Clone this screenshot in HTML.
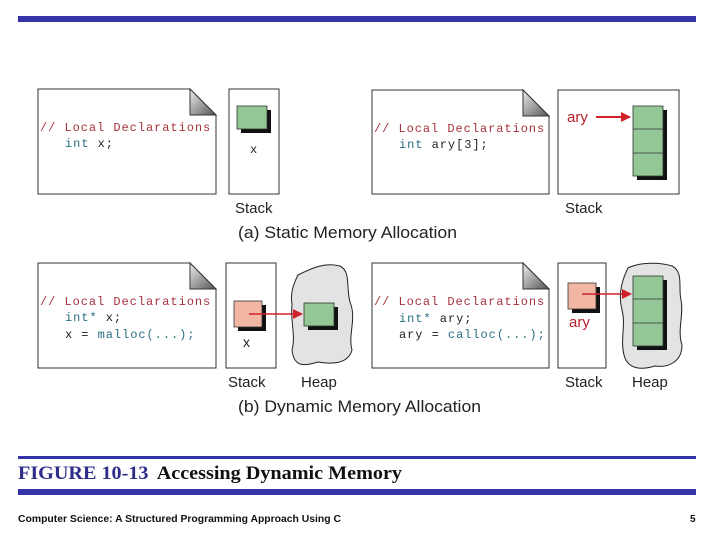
<!DOCTYPE html>
<html><head><meta charset="utf-8"><style>
html,body{margin:0;padding:0;background:#fff;width:720px;height:540px;overflow:hidden}
svg{display:block}
.mono{font-family:"Liberation Mono",monospace;font-size:12px;letter-spacing:0.95px}
.sans{font-family:"Liberation Sans",sans-serif}
</style></head><body>
<svg width="720" height="540" viewBox="0 0 720 540" xmlns="http://www.w3.org/2000/svg">
<defs>
<linearGradient id="fold" x1="0" y1="0" x2="1" y2="1">
<stop offset="0" stop-color="#eee"/><stop offset="1" stop-color="#555"/></linearGradient>
<marker id="ah" markerWidth="10" markerHeight="10" refX="9" refY="5" orient="auto" markerUnits="userSpaceOnUse">
<path d="M0,0 L10,5 L0,10 z" fill="#d0202a"/></marker>
</defs>
<rect x="18" y="16" width="678" height="6" fill="#3434a8"/>

<path d="M38,89 H190 L216,115 V194 H38 Z" fill="#fff" stroke="#333" stroke-width="1"/>
<path d="M190,89 L216,115 H190 Z" fill="url(#fold)" stroke="#333" stroke-width="1"/>
<text x="40" y="131" class="mono" fill="#a8323c">// Local Declarations</text>
<text x="65" y="147" class="mono" fill="#2a6f86">int <tspan fill="#222">x;</tspan></text>
<rect x="229" y="89" width="50" height="105" fill="#fff" stroke="#333"/>
<rect x="241" y="110" width="30" height="23" fill="#111"/>
<rect x="237" y="106" width="30" height="23" fill="#93c795" stroke="#333" stroke-width="0.8"/>
<text x="250" y="153" class="mono" fill="#222">x</text>
<text x="235" y="213" class="sans" font-size="15" fill="#222">Stack</text>

<path d="M372,90 H523 L549,116 V194 H372 Z" fill="#fff" stroke="#333"/>
<path d="M523,90 L549,116 H523 Z" fill="url(#fold)" stroke="#333"/>
<text x="374" y="132" class="mono" fill="#a8323c">// Local Declarations</text>
<text x="399" y="148" class="mono" fill="#2a6f86">int <tspan fill="#222">ary[3];</tspan></text>
<rect x="558" y="90" width="121" height="104" fill="#fff" stroke="#333"/>
<text x="567" y="122" class="sans" font-size="15" fill="#b8202c">ary</text>
<line x1="596" y1="117" x2="630" y2="117" stroke="#d0202a" stroke-width="2" marker-end="url(#ah)"/>
<rect x="637" y="110" width="30" height="70" fill="#111"/>
<rect x="633" y="106" width="30" height="70" fill="#93c795" stroke="#333" stroke-width="0.8"/>
<line x1="633" y1="129" x2="663" y2="129" stroke="#333" stroke-width="0.8"/>
<line x1="633" y1="153" x2="663" y2="153" stroke="#333" stroke-width="0.8"/>
<text x="565" y="213" class="sans" font-size="15" fill="#222">Stack</text>
<text x="238" y="238" class="sans" font-size="16.5" fill="#222" textLength="219" lengthAdjust="spacingAndGlyphs">(a) Static Memory Allocation</text>

<path d="M38,263 H190 L216,289 V368 H38 Z" fill="#fff" stroke="#333"/>
<path d="M190,263 L216,289 H190 Z" fill="url(#fold)" stroke="#333"/>
<text x="40" y="305" class="mono" fill="#a8323c">// Local Declarations</text>
<text x="65" y="321" class="mono" fill="#2a6f86">int* <tspan fill="#222">x;</tspan></text>
<text x="65" y="338" class="mono" fill="#222">x = <tspan fill="#2a6f86">malloc(...);</tspan></text>
<rect x="226" y="263" width="50" height="105" fill="#fff" stroke="#333"/>
<rect x="238" y="305" width="28" height="26" fill="#111"/>
<rect x="234" y="301" width="28" height="26" fill="#f2b7a3" stroke="#333" stroke-width="0.8"/>
<text x="243" y="347" class="sans" font-size="14" fill="#222">x</text>
<path d="M298,275 C312,268 325,262 340,266 C352,272 345,290 351,305 C356,320 348,335 352,350 C348,365 330,364 318,362 C305,366 294,368 292,350 C296,335 290,320 292,305 C290,292 294,283 298,275 Z" fill="#e3e3e3" stroke="#222"/>
<rect x="308" y="307" width="30" height="23" fill="#111"/>
<rect x="304" y="303" width="30" height="23" fill="#93c795" stroke="#333" stroke-width="0.8"/>
<line x1="249" y1="314" x2="302" y2="314" stroke="#d0202a" stroke-width="1.5" marker-end="url(#ah)"/>
<text x="228" y="387" class="sans" font-size="15" fill="#222">Stack</text>
<text x="301" y="387" class="sans" font-size="15" fill="#222">Heap</text>

<path d="M372,263 H523 L549,289 V368 H372 Z" fill="#fff" stroke="#333"/>
<path d="M523,263 L549,289 H523 Z" fill="url(#fold)" stroke="#333"/>
<text x="374" y="305" class="mono" fill="#a8323c">// Local Declarations</text>
<text x="399" y="322" class="mono" fill="#2a6f86">int* <tspan fill="#222">ary;</tspan></text>
<text x="399" y="338" class="mono" fill="#222">ary = <tspan fill="#2a6f86">calloc(...);</tspan></text>
<rect x="558" y="263" width="48" height="105" fill="#fff" stroke="#333"/>
<rect x="572" y="287" width="28" height="26" fill="#111"/>
<rect x="568" y="283" width="28" height="26" fill="#f2b7a3" stroke="#333" stroke-width="0.8"/>
<text x="569" y="327" class="sans" font-size="15" fill="#b8202c">ary</text>
<path d="M628,268 C640,262 660,262 672,266 C684,272 678,288 681,300 C684,315 677,330 682,345 C682,362 668,368 655,366 C642,370 628,370 624,355 C620,340 626,325 622,310 C618,295 622,280 628,268 Z" fill="#e3e3e3" stroke="#222"/>
<rect x="637" y="280" width="30" height="70" fill="#111"/>
<rect x="633" y="276" width="30" height="70" fill="#93c795" stroke="#333" stroke-width="0.8"/>
<line x1="633" y1="299" x2="663" y2="299" stroke="#333" stroke-width="0.8"/>
<line x1="633" y1="323" x2="663" y2="323" stroke="#333" stroke-width="0.8"/>
<line x1="582" y1="294" x2="631" y2="294" stroke="#d0202a" stroke-width="1.5" marker-end="url(#ah)"/>
<text x="565" y="387" class="sans" font-size="15" fill="#222">Stack</text>
<text x="632" y="387" class="sans" font-size="15" fill="#222">Heap</text>
<text x="238" y="412" class="sans" font-size="16.5" fill="#222" textLength="243" lengthAdjust="spacingAndGlyphs">(b) Dynamic Memory Allocation</text>

<rect x="18" y="456" width="678" height="3" fill="#3434a8"/>
<text x="18" y="479" font-family="'Liberation Serif',serif" font-weight="bold" font-size="19" fill="#2e2e8a" textLength="384" lengthAdjust="spacingAndGlyphs">FIGURE 10-13 <tspan dx="4" fill="#111">Accessing Dynamic Memory</tspan></text>
<rect x="18" y="489" width="678" height="6" fill="#3434a8"/>
<text x="18" y="522" class="sans" font-size="10" font-weight="bold" fill="#111" textLength="323" lengthAdjust="spacingAndGlyphs">Computer Science: A Structured Programming Approach Using C</text>
<text x="690" y="522" class="sans" font-size="10" font-weight="bold" fill="#111">5</text>
</svg>
</body></html>
